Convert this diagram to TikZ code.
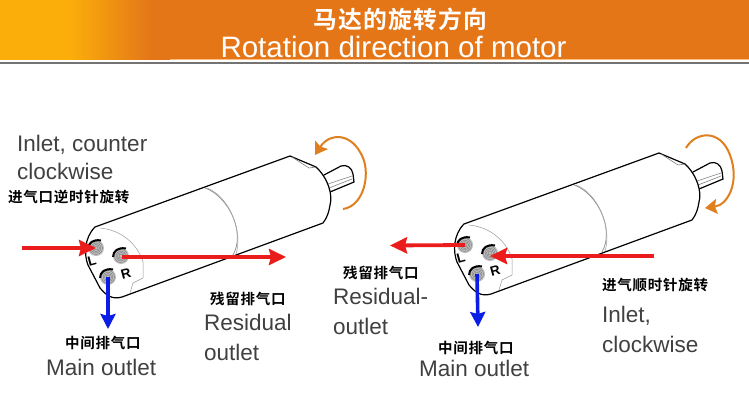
\documentclass[tikz,border=0pt]{standalone}
\usepackage{fontspec}
\setmainfont{Liberation Sans}
\newfontfamily\cjk{Noto Sans CJK SC}[BoldFont={Noto Sans CJK SC Bold}, LetterSpace=5]
\usetikzlibrary{arrows.meta, positioning}
\definecolor{bannerorange}{HTML}{E47618}
\definecolor{banneryellow}{HTML}{FBAE0A}
\definecolor{turnorange}{HTML}{E07F1E}
\definecolor{flowred}{HTML}{EA1C1C}
\definecolor{flowblue}{HTML}{0A1EE6}
\tikzset{
  entext/.style={inner sep=0pt, anchor=north west, font=\fontsize{22.5}{23}\selectfont, text=black!75, text height=16pt, text depth=5pt},
  cntext/.style={inner sep=0pt, anchor=north west, font=\fontsize{14.5}{15}\selectfont\cjk\bfseries, text height=12pt, text depth=2pt},
  redflow/.style={draw=flowred, line width=3.8pt, -{Stealth[length=17pt,width=16pt,inset=2pt]}},
  blueflow/.style={draw=flowblue, line width=3.6pt, -{Stealth[length=15pt,width=15pt,inset=2pt]}},
  turn/.style={draw=turnorange, line width=2pt, -{Stealth[length=12pt,width=15pt,inset=2pt]}},
  motor/.pic={
    % shaft
    \draw[line width=1.2pt, fill=white] (324,175) -- (341,166) .. controls (347,164) and (352,168) .. (353,174) -- (354,182) -- (330,192);
    \draw[black!50, line width=.6pt] (328,184) -- (352,176) (329,188) -- (352,179);
    % body
    \draw[line width=1.2pt, fill=white, line join=round] (95,227) -- (290,156) -- (316,167)
      .. controls (328,178) and (333,195) .. (330,205) .. controls (329,212) and (327,218) .. (323,223)
      -- (122,297) .. controls (112,300) and (106,295) .. (100,288) -- (88,265)
      .. controls (84,255) and (84,238) .. (95,227) -- cycle;
    \draw[black!50, line width=.6pt] (292,157) -- (309,168) -- (316,167);
    \draw[black!45, line width=.7pt] (205,188) .. controls (228,196) and (246,232) .. (233,255);
    \draw[black!35, line width=.6pt] (207,188) .. controls (230,197) and (243,232) .. (236,254);
    \draw[black!40, line width=.5pt] (100,228) .. controls (122,230) and (138,245) .. (143,262) -- (143,278) -- (133,283) -- (130,293);
    % ports
    \foreach \px/\py in {96/248, 121/256, 108/277} {
      \fill[black!25] (\px,\py) circle (8pt);
      \foreach \r in {2,3.5,5,6.5} \draw[black!55, line width=.35pt] (\px,\py) circle (\r pt);
      \draw[line width=2pt] (\px-8,\py+1) .. controls (\px-8,\py-5) and (\px-3,\py-9) .. (\px+5,\py-7.5);
    }
    \coordinate (portL) at (96,248);
    \coordinate (portR) at (121,256);
    \coordinate (portM) at (108,277);
    \node[rotate=15, inner sep=0pt, font=\fontsize{13.5}{14}\selectfont\bfseries] (letterL) at (92,261) {L};
    \node[rotate=15, inner sep=0pt, font=\fontsize{13.5}{14}\selectfont\bfseries] (letterR) at (126,274) {R};
  }
}
\begin{document}
\begin{tikzpicture}[x=1pt, y=-1pt]
\useasboundingbox (0,0) rectangle (749,407);
% banner
\fill[bannerorange] (0,0) rectangle (749,60);
\fill[banneryellow] (0,0) rectangle (70,60);
\foreach \i in {0,...,39}
  \fill[banneryellow!\fpeval{100-\i*2.5}!bannerorange] (70+\i*2,0) rectangle (72.5+\i*2,60);
\fill[black!55] (0,61.5) rectangle (749,64);
\fill[orange!50!white] (170,59) rectangle (749,60);
\node[inner sep=0pt, text=white, font=\fontsize{23.8}{25}\selectfont\cjk\bfseries] (titlecn) at (400.5,19) {马达的旋转方向};
\node[inner sep=0pt, text=white, font=\fontsize{29.5}{30}\selectfont, below=5pt of titlecn, xshift=-7pt] (titleen) {Rotation direction of motor};

\pic (lm) at (0,0) {motor};
\pic (rm) at (369,-3) {motor};

% left motor
\node[entext] (inleta) at (17,135) {Inlet, counter};
\node[entext, below=7pt of inleta.south west, anchor=north west] (inletb) {clockwise};
\node[cntext] (inletc) at (8,190) {进气口逆时针旋转};
\node[cntext] (rescn) at (210,292) {残留排气口};
\node[entext, below=8pt of rescn.south west, anchor=north west, xshift=-6pt] (resa) {Residual};
\node[entext, below=8pt of resa.south west, anchor=north west] (resb) {outlet};
\node[cntext] (maincn) at (65,336) {中间排气口};
\node[entext, below=9pt of maincn.south west, anchor=north west, xshift=-19pt] (mainen) {Main outlet};
\coordinate (lin) at (22,248);
\coordinate (lres) at (286,257);
\coordinate (lmain) at (108,329);
\draw[redflow] (lin) -- (lmportL);
\draw[redflow] ([shift={(1,1)}]lmportR) -- (lres);
\draw[blueflow] (lmportM) -- (lmain);
\coordinate (lturna) at (343,209);
\coordinate (lturnb) at (315,155);
\draw[turn] (lturna) .. controls (365,206) and (372,170) .. (360,152) .. controls (350,134) and (330,132) .. (lturnb);

% right motor
\node[cntext] (rrescn) at (343,266) {残留排气口};
\node[entext, below=8pt of rrescn.south west, anchor=north west, xshift=-10pt] (rresa) {Residual-};
\node[entext, below=8pt of rresa.south west, anchor=north west] (rresb) {outlet};
\node[cntext] (rinc) at (602,278) {进气顺时针旋转};
\node[entext, below=14pt of rinc.south west, anchor=north west] (rina) {Inlet,};
\node[entext, below=8pt of rina.south west, anchor=north west] (rinb) {clockwise};
\node[cntext] (rmaincn) at (438,341) {中间排气口};
\node[entext, below=5pt of rmaincn.south west, anchor=north west, xshift=-19pt] (rmainen) {Main outlet};
\coordinate (rres) at (390,245.5);
\coordinate (rin) at (654,256);
\coordinate (rmain) at (478,327);
\draw[redflow] (rmportL) -- (rres);
\draw[redflow] (rin) -- ([shift={(0,3)}]rmportR);
\draw[blueflow] (rmportM) -- (rmain);
\coordinate (rturna) at (686,148);
\coordinate (rturnb) at (705,208);
\draw[turn] (rturna) .. controls (695,132) and (720,128) .. (730,155) .. controls (740,182) and (728,205) .. (rturnb);
\end{tikzpicture}
\end{document}
